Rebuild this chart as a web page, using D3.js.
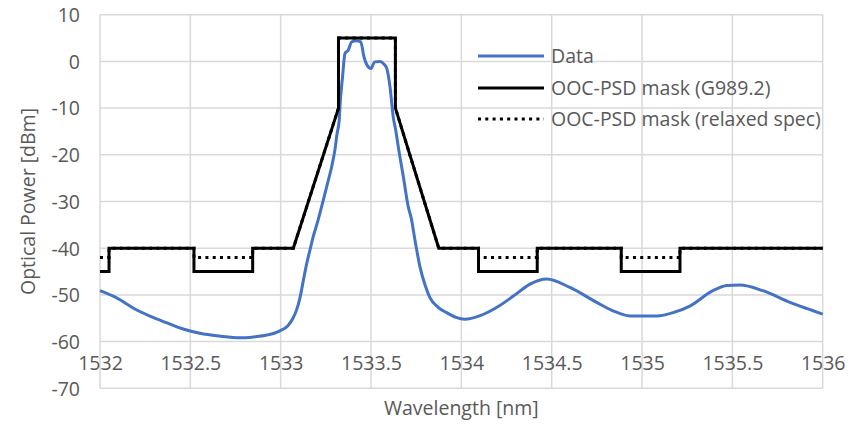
<!DOCTYPE html>
<html><head><meta charset="utf-8">
<script src="https://cdn.jsdelivr.net/npm/d3@7"></script>
<style>body{margin:0;background:#fff}svg{display:block}text{font-family:"Open Sans",sans-serif;fill:#595959}</style>
</head><body><svg id="c" width="865" height="424"></svg>
<script>
const xTicks = [1532, 1532.5, 1533, 1533.5, 1534, 1534.5, 1535, 1535.5, 1536];
const yTicks = [10, 0, -10, -20, -30, -40, -50, -60, -70];
const seriesNames = ["Data", "OOC-PSD mask (G989.2)", "OOC-PSD mask (relaxed spec)"];

const dataX = [1532.000,1532.09,1532.183,1532.28,1532.371,1532.46,1532.553,1532.66,1532.775,1532.85,1532.924,1532.996,1533.04,1533.068,1533.09,1533.107,1533.125,1533.144,1533.162,1533.179,1533.207,1533.236,1533.26,1533.282,1533.30,1533.312,1533.324,1533.328,1533.342,1533.356,1533.374,1533.393,1533.42,1533.443,1533.461,1533.478,1533.50,1533.52,1533.55,1533.572,1533.587,1533.605,1533.623,1533.638,1533.651,1533.679,1533.706,1533.725,1533.734,1533.753,1533.771,1533.80,1533.826,1533.87,1533.919,1533.97,1534.02,1534.10,1534.195,1534.29,1534.38,1534.472,1534.601,1534.749,1534.84,1534.933,1535.081,1535.18,1535.265,1535.392,1535.47,1535.542,1535.669,1535.818,1535.91,1536.0];
const dataY = [-49.1,-50.6,-52.8,-54.6,-56.0,-57.3,-58.2,-58.8,-59.2,-59.0,-58.6,-57.7,-56.6,-55.0,-53.0,-50.6,-47.0,-43.3,-40.4,-37.7,-34.0,-29.7,-26.0,-22.6,-19.0,-15.5,-12.6,-9.7,-3.5,1.7,2.4,4.2,4.4,4.2,1.0,-0.8,-1.5,-0.1,0.0,-0.6,-1.5,-5.4,-11.9,-15.0,-18.3,-24.7,-31.1,-34.0,-36.1,-40.4,-44.0,-48.0,-50.6,-52.6,-53.8,-54.8,-55.2,-54.5,-52.7,-50.2,-47.7,-46.6,-48.4,-51.6,-53.4,-54.5,-54.5,-53.7,-52.4,-49.1,-48.0,-47.9,-49.1,-51.6,-52.9,-54.1];

const maskX = [1532,1532.05,1532.05,1532.52,1532.52,1532.845,1532.845,1533.07,1533.32,1533.32,1533.635,1533.635,1533.875,1534.095,1534.095,1534.42,1534.42,1534.885,1534.885,1535.21,1535.21,1536];
const maskY = [-45,-45,-40,-40,-45,-45,-40,-40,-10,5,5,-10,-40,-40,-45,-45,-40,-40,-45,-45,-40,-40];
const relaxedY = [-42,-42,-40,-40,-42,-42,-40,-40,-10,5,5,-10,-40,-40,-42,-42,-40,-40,-42,-42,-40,-40];

const FS = 19.5;
const svg = d3.select("#c");
const x = d3.scaleLinear().domain([1532,1536]).range([100,822.7]);
const y = d3.scaleLinear().domain([-70,10]).range([388.3,14.7]);

// gridlines
const g = svg.append("g");
g.selectAll(".hg").data(yTicks).join("line")
  .attr("x1",x(1532)).attr("x2",x(1536)).attr("y1",d=>y(d)).attr("y2",d=>y(d))
  .attr("stroke","#d9d9d9").attr("stroke-width",1.5);
g.selectAll(".vg").data(xTicks).join("line")
  .attr("y1",y(10)).attr("y2",y(-70)).attr("x1",d=>x(d)).attr("x2",d=>x(d))
  .attr("stroke","#d9d9d9").attr("stroke-width",1.5);

const yAxis = svg.append("g").attr("transform",`translate(${x(1532)-20},0)`)
  .call(d3.axisLeft(y).tickValues(yTicks).tickSize(0).tickPadding(0).tickFormat(d=>String(d)));
yAxis.select(".domain").remove();
yAxis.selectAll("text").attr("font-size",FS).attr("font-family","Open Sans").attr("fill","#595959").attr("dy","0.35em");

const xAxis = svg.append("g").attr("transform",`translate(0,${y(-60)+22})`)
  .call(d3.axisBottom(x).tickValues(xTicks).tickSize(0).tickPadding(0).tickFormat(d=>String(d)));
xAxis.select(".domain").remove();
xAxis.selectAll("text").attr("font-size",FS).attr("font-family","Open Sans").attr("fill","#595959").attr("dy","0.35em");

svg.append("text").attr("transform",`translate(35,${(y(10)+y(-70))/2}) rotate(-90)`)
  .attr("text-anchor","middle").attr("font-size",FS).text("Optical Power [dBm]");
svg.append("text").attr("x",(x(1532)+x(1536))/2).attr("y",408).attr("dy","0.35em")
  .attr("text-anchor","middle").attr("font-size",FS).text("Wavelength [nm]");

const line = d3.line().x(d=>x(d[0])).y(d=>y(d[1]));
const plot = svg.append("g");

plot.append("path").datum(dataX.map((v,i)=>[v,dataY[i]]))
  .attr("d",d3.line().x(d=>x(d[0])).y(d=>y(d[1])).curve(d3.curveMonotoneX))
  .attr("fill","none").attr("stroke","#4472C4").attr("stroke-width",3).attr("stroke-linejoin","round");
plot.append("path").datum(maskX.map((v,i)=>[v,relaxedY[i]]))
  .attr("d",line).attr("fill","none").attr("stroke","#000").attr("stroke-width",3).attr("stroke-dasharray","3,4.3");
plot.append("path").datum(maskX.map((v,i)=>[v,maskY[i]]))
  .attr("d",line).attr("fill","none").attr("stroke","#000").attr("stroke-width",3);

const leg = svg.append("g");
const ly = [56, 88, 119];
const styles = [{c:"#4472C4",d:null},{c:"#000",d:null},{c:"#000",d:"3,4.3"}];
seriesNames.forEach((n,i)=>{
  leg.append("line").attr("x1",478).attr("x2",544).attr("y1",ly[i]).attr("y2",ly[i])
    .attr("stroke",styles[i].c).attr("stroke-width",3).attr("stroke-dasharray",styles[i].d);
  leg.append("text").attr("x",551).attr("y",ly[i]).attr("dy","0.35em").attr("font-size",FS).text(n);
});
</script></body></html>
